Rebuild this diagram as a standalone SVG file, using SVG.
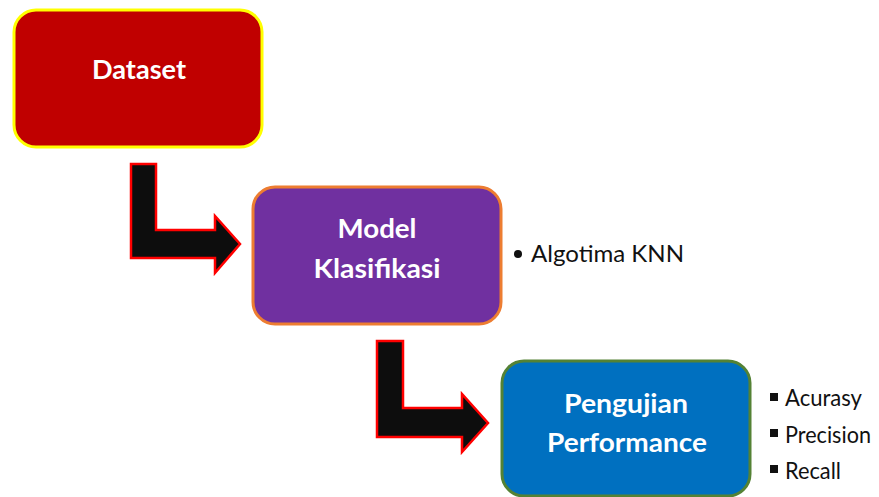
<svg xmlns="http://www.w3.org/2000/svg" width="879" height="497" viewBox="0 0 879 497">
  <defs>
    <style>
      .box { stroke-width: 3; }
      .lbl { font-family: Lato, "Liberation Sans", sans-serif; font-weight: bold; font-size: 27px; fill: #ffffff; text-anchor: middle; }
      .txt { font-family: Lato, "Liberation Sans", sans-serif; font-size: 24px; fill: #111111; }
      .arrow { fill: #0d0d0d; stroke: #ff0000; stroke-width: 2.5; stroke-linejoin: miter; }
    </style>
  </defs>
  <rect width="879" height="497" fill="#ffffff"/>

  <g id="connectors">
    <path class="arrow" d="M131,164 L156,164 L156,230 L215,230 L215,216 L240,244 L215,273 L215,258 L131,258 Z"/>
    <path class="arrow" d="M377,341 L403,341 L403,408 L462,408 L462,394 L488,423 L462,452 L462,437 L377,437 Z"/>
  </g>

  <g id="node-dataset">
    <rect class="box" x="14" y="10" width="248" height="137" rx="22" fill="#c00000" stroke="#ffff00"/>
    <text class="lbl" x="139" y="79" textLength="94" lengthAdjust="spacingAndGlyphs">Dataset</text>
  </g>

  <g id="node-model">
    <rect class="box" x="253" y="187" width="248" height="137" rx="22" fill="#7030a0" stroke="#ed7d31"/>
    <text class="lbl" x="377" y="238" textLength="79" lengthAdjust="spacingAndGlyphs">Model</text>
    <text class="lbl" x="377" y="278" textLength="127" lengthAdjust="spacingAndGlyphs">Klasifikasi</text>
  </g>

  <g id="node-pengujian">
    <rect class="box" x="502" y="361" width="248" height="135" rx="22" fill="#0070c0" stroke="#548235"/>
    <text class="lbl" x="626" y="413" textLength="124" lengthAdjust="spacingAndGlyphs">Pengujian</text>
    <text class="lbl" x="627" y="452" textLength="160" lengthAdjust="spacingAndGlyphs">Performance</text>
  </g>

  <g id="note-model">
    <circle cx="518" cy="254" r="4" fill="#111111"/>
    <text class="txt" x="531" y="262" textLength="153" lengthAdjust="spacingAndGlyphs">Algotima KNN</text>
  </g>

  <g id="note-pengujian">
    <rect x="770" y="393" width="8" height="8" fill="#111111"/>
    <text class="txt" x="785" y="406" textLength="77" lengthAdjust="spacingAndGlyphs">Acurasy</text>
    <rect x="770" y="429" width="8" height="8" fill="#111111"/>
    <text class="txt" x="785" y="443" textLength="86" lengthAdjust="spacingAndGlyphs">Precision</text>
    <rect x="770" y="465" width="8" height="8" fill="#111111"/>
    <text class="txt" x="785" y="479" textLength="56" lengthAdjust="spacingAndGlyphs">Recall</text>
  </g>
</svg>
